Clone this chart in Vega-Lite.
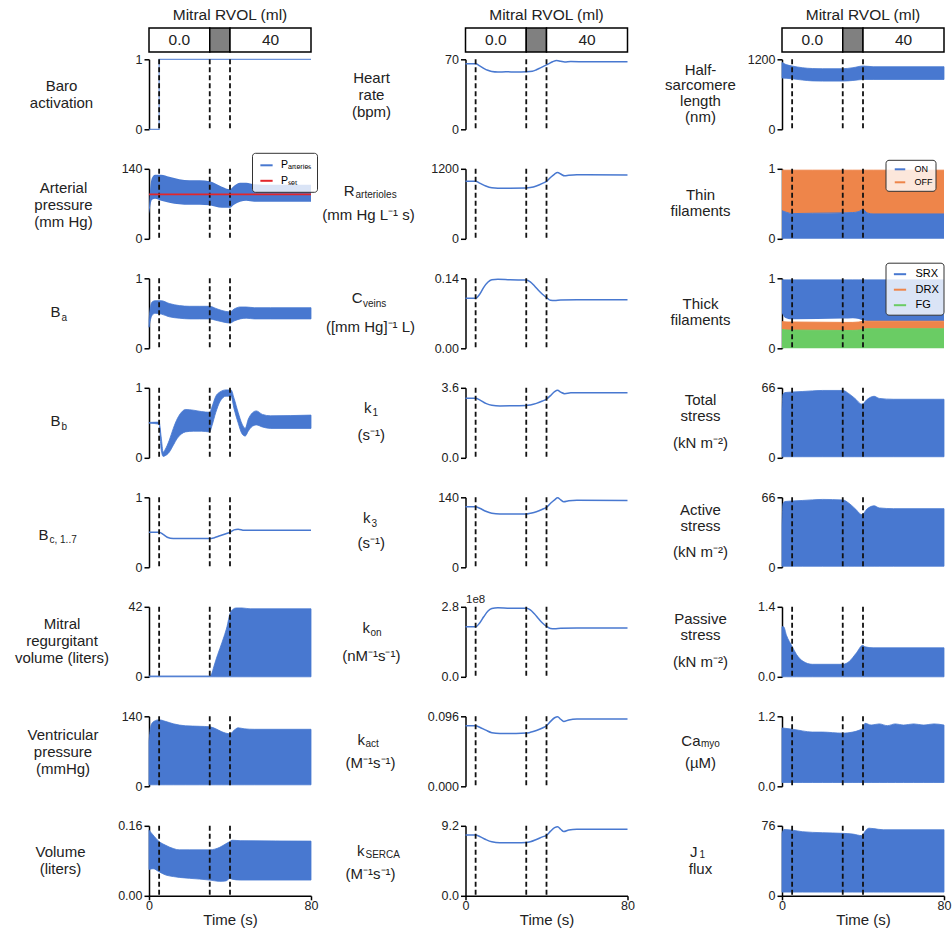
{
  "$schema": "https://vega.github.io/schema/vega-lite/v6.json",
  "padding": {"top": 7, "left": 14, "right": 5, "bottom": 5},
  "background": "white",
  "config": {
    "font": "Liberation Sans",
    "view": {"stroke": null},
    "axis": {"domainColor": "#000", "domainWidth": 1.5, "tickColor": "#000", "tickWidth": 1.5, "tickSize": 5, "labelFontSize": 12.5, "labelColor": "#222", "labelPadding": 2, "labelFlush": false, "labelOverlap": false, "titleFontSize": 15, "titleFontWeight": "normal", "titleColor": "#222", "titleLineHeight": 17, "grid": false},
    "title": {"fontSize": 15.5, "fontWeight": "normal", "color": "#222"}
  },
  "datasets": {
    "events": [{"t": 5}, {"t": 30}, {"t": 40}],
    "regimes": [
      {"regime": "before", "start": 0, "end": 30, "rvol": "0.0"},
      {"regime": "transition", "start": 30, "end": 40, "rvol": ""},
      {"regime": "after", "start": 40, "end": 80, "rvol": "40"}
    ],
    "baro": [{"t": 0, "v": 0}, {"t": 5, "v": 1}, {"t": 80, "v": 1}],
    "arterial": [
      {"series": "Pₐᵣₜₑᵣᵢₑₛ", "t": 0, "lo": 50, "hi": 62},
      {"series": "Pₐᵣₜₑᵣᵢₑₛ", "t": 0.5, "lo": 62, "hi": 95},
      {"series": "Pₐᵣₜₑᵣᵢₑₛ", "t": 1.5, "lo": 78, "hi": 122},
      {"series": "Pₐᵣₜₑᵣᵢₑₛ", "t": 3, "lo": 80, "hi": 128},
      {"series": "Pₐᵣₜₑᵣᵢₑₛ", "t": 6, "lo": 76, "hi": 128},
      {"series": "Pₐᵣₜₑᵣᵢₑₛ", "t": 10, "lo": 72, "hi": 124},
      {"series": "Pₐᵣₜₑᵣᵢₑₛ", "t": 15, "lo": 69, "hi": 119},
      {"series": "Pₐᵣₜₑᵣᵢₑₛ", "t": 20, "lo": 68, "hi": 117},
      {"series": "Pₐᵣₜₑᵣᵢₑₛ", "t": 25, "lo": 68, "hi": 117},
      {"series": "Pₐᵣₜₑᵣᵢₑₛ", "t": 30, "lo": 67, "hi": 115},
      {"series": "Pₐᵣₜₑᵣᵢₑₛ", "t": 33, "lo": 64, "hi": 110},
      {"series": "Pₐᵣₜₑᵣᵢₑₛ", "t": 36, "lo": 62, "hi": 104},
      {"series": "Pₐᵣₜₑᵣᵢₑₛ", "t": 40, "lo": 62, "hi": 99},
      {"series": "Pₐᵣₜₑᵣᵢₑₛ", "t": 42, "lo": 68, "hi": 106},
      {"series": "Pₐᵣₜₑᵣᵢₑₛ", "t": 45, "lo": 74, "hi": 112},
      {"series": "Pₐᵣₜₑᵣᵢₑₛ", "t": 48, "lo": 76, "hi": 112},
      {"series": "Pₐᵣₜₑᵣᵢₑₛ", "t": 52, "lo": 74, "hi": 109},
      {"series": "Pₐᵣₜₑᵣᵢₑₛ", "t": 60, "lo": 74, "hi": 108},
      {"series": "Pₐᵣₜₑᵣᵢₑₛ", "t": 80, "lo": 74, "hi": 108}
    ],
    "pset": [{"series": "Pₛₑₜ", "t": 0, "v": 89}, {"series": "Pₛₑₜ", "t": 80, "v": 89}],
    "ba": [
      {"t": 0, "lo": 0.30, "hi": 0.40}, {"t": 0.5, "lo": 0.38, "hi": 0.55}, {"t": 1.5, "lo": 0.47, "hi": 0.66},
      {"t": 3, "lo": 0.50, "hi": 0.68}, {"t": 6, "lo": 0.49, "hi": 0.68}, {"t": 10, "lo": 0.45, "hi": 0.64},
      {"t": 15, "lo": 0.43, "hi": 0.61}, {"t": 20, "lo": 0.42, "hi": 0.60}, {"t": 25, "lo": 0.42, "hi": 0.60},
      {"t": 30, "lo": 0.42, "hi": 0.60}, {"t": 33, "lo": 0.40, "hi": 0.57}, {"t": 36, "lo": 0.38, "hi": 0.54},
      {"t": 40, "lo": 0.36, "hi": 0.52}, {"t": 42, "lo": 0.39, "hi": 0.56}, {"t": 45, "lo": 0.42, "hi": 0.59},
      {"t": 48, "lo": 0.43, "hi": 0.59}, {"t": 52, "lo": 0.42, "hi": 0.58}, {"t": 60, "lo": 0.42, "hi": 0.58},
      {"t": 80, "lo": 0.42, "hi": 0.58}
    ],
    "bb": [
      {"t": 0, "lo": 0.495, "hi": 0.505}, {"t": 5, "lo": 0.48, "hi": 0.51}, {"t": 6, "lo": 0.12, "hi": 0.30},
      {"t": 7, "lo": 0.02, "hi": 0.08}, {"t": 8, "lo": 0.03, "hi": 0.12}, {"t": 10, "lo": 0.08, "hi": 0.25},
      {"t": 12, "lo": 0.18, "hi": 0.42}, {"t": 14, "lo": 0.28, "hi": 0.56}, {"t": 16, "lo": 0.34, "hi": 0.65},
      {"t": 18, "lo": 0.37, "hi": 0.69}, {"t": 22, "lo": 0.38, "hi": 0.68}, {"t": 26, "lo": 0.38, "hi": 0.66},
      {"t": 30, "lo": 0.37, "hi": 0.65}, {"t": 31, "lo": 0.45, "hi": 0.72}, {"t": 33, "lo": 0.65, "hi": 0.88},
      {"t": 35, "lo": 0.80, "hi": 0.94}, {"t": 38, "lo": 0.88, "hi": 0.97}, {"t": 40.5, "lo": 0.88, "hi": 0.97},
      {"t": 42, "lo": 0.70, "hi": 0.85}, {"t": 44, "lo": 0.50, "hi": 0.65}, {"t": 46, "lo": 0.34, "hi": 0.48},
      {"t": 47.5, "lo": 0.31, "hi": 0.42}, {"t": 49, "lo": 0.38, "hi": 0.55}, {"t": 51, "lo": 0.45, "hi": 0.64},
      {"t": 53, "lo": 0.47, "hi": 0.67}, {"t": 56, "lo": 0.44, "hi": 0.62}, {"t": 60, "lo": 0.42, "hi": 0.60},
      {"t": 80, "lo": 0.42, "hi": 0.61}
    ],
    "bc": [
      {"t": 0, "v": 0.5}, {"t": 5, "v": 0.5}, {"t": 7, "v": 0.47}, {"t": 9, "v": 0.43}, {"t": 12, "v": 0.41},
      {"t": 20, "v": 0.41}, {"t": 30, "v": 0.41}, {"t": 32, "v": 0.42}, {"t": 35, "v": 0.45}, {"t": 38, "v": 0.48},
      {"t": 40, "v": 0.5}, {"t": 42, "v": 0.535}, {"t": 44, "v": 0.545}, {"t": 47, "v": 0.53}, {"t": 52, "v": 0.53},
      {"t": 80, "v": 0.53}
    ],
    "mrv": [
      {"t": 0, "lo": 0, "hi": 0.5}, {"t": 30, "lo": 0, "hi": 0.5}, {"t": 31, "lo": 0, "hi": 2}, {"t": 32, "lo": 0, "hi": 6},
      {"t": 33, "lo": 0, "hi": 10}, {"t": 35, "lo": 0, "hi": 17}, {"t": 37, "lo": 0, "hi": 24}, {"t": 38.5, "lo": 0, "hi": 30},
      {"t": 40, "lo": 0, "hi": 38}, {"t": 41.5, "lo": 0, "hi": 40.5}, {"t": 43, "lo": 0, "hi": 41.3}, {"t": 46, "lo": 0, "hi": 41.3},
      {"t": 50, "lo": 0, "hi": 40.8}, {"t": 80, "lo": 0, "hi": 40.8}
    ],
    "vp": [
      {"t": 0, "lo": 3, "hi": 90}, {"t": 1, "lo": 3, "hi": 122}, {"t": 2.5, "lo": 3, "hi": 130}, {"t": 5, "lo": 3, "hi": 133},
      {"t": 8, "lo": 3, "hi": 130}, {"t": 12, "lo": 3, "hi": 125}, {"t": 18, "lo": 3, "hi": 121}, {"t": 25, "lo": 3, "hi": 120},
      {"t": 30, "lo": 3, "hi": 119}, {"t": 33, "lo": 3, "hi": 115}, {"t": 36, "lo": 3, "hi": 109}, {"t": 40, "lo": 3, "hi": 105},
      {"t": 42, "lo": 3, "hi": 112}, {"t": 44, "lo": 3, "hi": 117}, {"t": 47, "lo": 3, "hi": 115}, {"t": 52, "lo": 3, "hi": 114},
      {"t": 80, "lo": 3, "hi": 114}
    ],
    "vol": [
      {"t": 0, "lo": 0.060, "hi": 0.150}, {"t": 2, "lo": 0.062, "hi": 0.139}, {"t": 5, "lo": 0.055, "hi": 0.124},
      {"t": 8, "lo": 0.048, "hi": 0.116}, {"t": 12, "lo": 0.044, "hi": 0.108}, {"t": 15, "lo": 0.042, "hi": 0.105},
      {"t": 20, "lo": 0.040, "hi": 0.105}, {"t": 30, "lo": 0.036, "hi": 0.105}, {"t": 35, "lo": 0.033, "hi": 0.111},
      {"t": 38, "lo": 0.034, "hi": 0.119}, {"t": 40, "lo": 0.040, "hi": 0.124}, {"t": 41, "lo": 0.038, "hi": 0.127},
      {"t": 45, "lo": 0.036, "hi": 0.126}, {"t": 80, "lo": 0.036, "hi": 0.125}
    ],
    "hr": [
      {"t": 0, "v": 65.5}, {"t": 5, "v": 65.5}, {"t": 7, "v": 63.5}, {"t": 9, "v": 61}, {"t": 11, "v": 59}, {"t": 13, "v": 57.8},
      {"t": 16, "v": 57.3}, {"t": 20, "v": 57.5}, {"t": 25, "v": 57.3}, {"t": 30, "v": 57.5}, {"t": 33, "v": 58}, {"t": 35, "v": 59.5},
      {"t": 37, "v": 61.5}, {"t": 39, "v": 63.5}, {"t": 41, "v": 65.5}, {"t": 43, "v": 67.5}, {"t": 45, "v": 68.8}, {"t": 47, "v": 68},
      {"t": 49, "v": 67.3}, {"t": 52, "v": 67.7}, {"t": 60, "v": 67.6}, {"t": 80, "v": 67.6}
    ],
    "rart": [
      {"t": 0, "v": 985}, {"t": 5, "v": 985}, {"t": 7, "v": 955}, {"t": 10, "v": 905}, {"t": 13, "v": 875}, {"t": 16, "v": 868},
      {"t": 22, "v": 868}, {"t": 30, "v": 870}, {"t": 32, "v": 878}, {"t": 35, "v": 905}, {"t": 38, "v": 950}, {"t": 40, "v": 985},
      {"t": 42, "v": 1050}, {"t": 44, "v": 1110}, {"t": 45.5, "v": 1135}, {"t": 47, "v": 1110}, {"t": 49, "v": 1080}, {"t": 51, "v": 1090},
      {"t": 55, "v": 1100}, {"t": 60, "v": 1098}, {"t": 80, "v": 1095}
    ],
    "cv": [
      {"t": 0, "v": 0.1}, {"t": 5, "v": 0.1}, {"t": 7, "v": 0.108}, {"t": 9, "v": 0.122}, {"t": 11, "v": 0.132}, {"t": 13, "v": 0.137},
      {"t": 16, "v": 0.138}, {"t": 22, "v": 0.137}, {"t": 30, "v": 0.1365}, {"t": 32, "v": 0.133}, {"t": 34, "v": 0.125}, {"t": 36, "v": 0.116},
      {"t": 38, "v": 0.108}, {"t": 40, "v": 0.1015}, {"t": 42, "v": 0.096}, {"t": 44, "v": 0.0955}, {"t": 47, "v": 0.0965}, {"t": 55, "v": 0.097},
      {"t": 80, "v": 0.097}
    ],
    "k1": [
      {"t": 0, "v": 3.06}, {"t": 5, "v": 3.06}, {"t": 7, "v": 2.98}, {"t": 10, "v": 2.8}, {"t": 13, "v": 2.7}, {"t": 17, "v": 2.67},
      {"t": 25, "v": 2.68}, {"t": 30, "v": 2.69}, {"t": 32, "v": 2.72}, {"t": 35, "v": 2.8}, {"t": 38, "v": 2.92}, {"t": 40, "v": 3.02},
      {"t": 42, "v": 3.2}, {"t": 44, "v": 3.4}, {"t": 45.5, "v": 3.47}, {"t": 47, "v": 3.38}, {"t": 49, "v": 3.3}, {"t": 52, "v": 3.34},
      {"t": 60, "v": 3.34}, {"t": 80, "v": 3.34}
    ],
    "k3": [
      {"t": 0, "v": 121}, {"t": 5, "v": 121}, {"t": 7, "v": 118}, {"t": 10, "v": 112}, {"t": 13, "v": 108}, {"t": 17, "v": 106.5},
      {"t": 25, "v": 106.5}, {"t": 30, "v": 106.5}, {"t": 32, "v": 108}, {"t": 35, "v": 111}, {"t": 38, "v": 116}, {"t": 40, "v": 120},
      {"t": 42, "v": 128}, {"t": 44, "v": 135}, {"t": 45.5, "v": 139}, {"t": 47, "v": 135}, {"t": 48.5, "v": 131}, {"t": 51, "v": 133},
      {"t": 55, "v": 134}, {"t": 80, "v": 133.5}
    ],
    "kon": [
      {"t": 0, "v": 2.0e8}, {"t": 5, "v": 2.0e8}, {"t": 7, "v": 2.15e8}, {"t": 9, "v": 2.4e8}, {"t": 11, "v": 2.62e8}, {"t": 13, "v": 2.73e8},
      {"t": 16, "v": 2.76e8}, {"t": 22, "v": 2.74e8}, {"t": 30, "v": 2.74e8}, {"t": 32, "v": 2.68e8}, {"t": 34, "v": 2.52e8}, {"t": 36, "v": 2.33e8},
      {"t": 38, "v": 2.15e8}, {"t": 40, "v": 2.02e8}, {"t": 42, "v": 1.93e8}, {"t": 44, "v": 1.92e8}, {"t": 47, "v": 1.94e8}, {"t": 55, "v": 1.95e8},
      {"t": 80, "v": 1.95e8}
    ],
    "kact": [
      {"t": 0, "v": 0.083}, {"t": 5, "v": 0.083}, {"t": 7, "v": 0.081}, {"t": 10, "v": 0.077}, {"t": 13, "v": 0.0735}, {"t": 17, "v": 0.0725},
      {"t": 25, "v": 0.0725}, {"t": 30, "v": 0.073}, {"t": 32, "v": 0.074}, {"t": 35, "v": 0.0765}, {"t": 38, "v": 0.08}, {"t": 40, "v": 0.083},
      {"t": 42, "v": 0.089}, {"t": 44, "v": 0.094}, {"t": 45.5, "v": 0.0955}, {"t": 47, "v": 0.092}, {"t": 48.5, "v": 0.089}, {"t": 51, "v": 0.091},
      {"t": 55, "v": 0.0922}, {"t": 80, "v": 0.0922}
    ],
    "kserca": [
      {"t": 0, "v": 7.98}, {"t": 5, "v": 7.98}, {"t": 7, "v": 7.8}, {"t": 10, "v": 7.4}, {"t": 13, "v": 7.1}, {"t": 17, "v": 6.97},
      {"t": 25, "v": 6.97}, {"t": 30, "v": 7.0}, {"t": 32, "v": 7.1}, {"t": 35, "v": 7.4}, {"t": 38, "v": 7.75}, {"t": 40, "v": 7.95},
      {"t": 42, "v": 8.5}, {"t": 44, "v": 8.95}, {"t": 45.5, "v": 9.08}, {"t": 47, "v": 8.75}, {"t": 48.5, "v": 8.45}, {"t": 51, "v": 8.65},
      {"t": 55, "v": 8.75}, {"t": 80, "v": 8.75}
    ],
    "hsl": [
      {"t": 0, "lo": 880, "hi": 1145}, {"t": 2, "lo": 875, "hi": 1110}, {"t": 5, "lo": 866, "hi": 1085}, {"t": 10, "lo": 845, "hi": 1056},
      {"t": 15, "lo": 830, "hi": 1042}, {"t": 20, "lo": 826, "hi": 1039}, {"t": 30, "lo": 826, "hi": 1039}, {"t": 35, "lo": 837, "hi": 1056},
      {"t": 40, "lo": 854, "hi": 1085}, {"t": 45, "lo": 854, "hi": 1073}, {"t": 80, "lo": 854, "hi": 1073}
    ],
    "thin": [
      {"state": "ON", "t": 0, "lo": 0, "hi": 0.40}, {"state": "ON", "t": 2, "lo": 0, "hi": 0.38}, {"state": "ON", "t": 5, "lo": 0, "hi": 0.36},
      {"state": "ON", "t": 15, "lo": 0, "hi": 0.365}, {"state": "ON", "t": 30, "lo": 0, "hi": 0.37}, {"state": "ON", "t": 35, "lo": 0, "hi": 0.375},
      {"state": "ON", "t": 38, "lo": 0, "hi": 0.39}, {"state": "ON", "t": 40, "lo": 0, "hi": 0.42}, {"state": "ON", "t": 42, "lo": 0, "hi": 0.37},
      {"state": "ON", "t": 45, "lo": 0, "hi": 0.355}, {"state": "ON", "t": 80, "lo": 0, "hi": 0.355},
      {"state": "OFF", "t": 0, "lo": 0.40, "hi": 0.98}, {"state": "OFF", "t": 2, "lo": 0.38, "hi": 0.98}, {"state": "OFF", "t": 5, "lo": 0.36, "hi": 0.98},
      {"state": "OFF", "t": 15, "lo": 0.365, "hi": 0.98}, {"state": "OFF", "t": 30, "lo": 0.37, "hi": 0.98}, {"state": "OFF", "t": 35, "lo": 0.375, "hi": 0.98},
      {"state": "OFF", "t": 38, "lo": 0.39, "hi": 0.98}, {"state": "OFF", "t": 40, "lo": 0.42, "hi": 0.98}, {"state": "OFF", "t": 42, "lo": 0.37, "hi": 0.98},
      {"state": "OFF", "t": 45, "lo": 0.355, "hi": 0.98}, {"state": "OFF", "t": 80, "lo": 0.355, "hi": 0.98}
    ],
    "thick": [
      {"state": "FG", "t": 0, "lo": 0, "hi": 0.27}, {"state": "FG", "t": 1, "lo": 0, "hi": 0.265}, {"state": "FG", "t": 3, "lo": 0, "hi": 0.26},
      {"state": "FG", "t": 5, "lo": 0, "hi": 0.26}, {"state": "FG", "t": 30, "lo": 0, "hi": 0.255}, {"state": "FG", "t": 35, "lo": 0, "hi": 0.255},
      {"state": "FG", "t": 38, "lo": 0, "hi": 0.26}, {"state": "FG", "t": 40, "lo": 0, "hi": 0.27}, {"state": "FG", "t": 42, "lo": 0, "hi": 0.28},
      {"state": "FG", "t": 80, "lo": 0, "hi": 0.28},
      {"state": "DRX", "t": 0, "lo": 0.27, "hi": 0.38}, {"state": "DRX", "t": 1, "lo": 0.265, "hi": 0.378}, {"state": "DRX", "t": 3, "lo": 0.26, "hi": 0.375},
      {"state": "DRX", "t": 5, "lo": 0.26, "hi": 0.375}, {"state": "DRX", "t": 30, "lo": 0.255, "hi": 0.37}, {"state": "DRX", "t": 35, "lo": 0.255, "hi": 0.37},
      {"state": "DRX", "t": 38, "lo": 0.26, "hi": 0.375}, {"state": "DRX", "t": 40, "lo": 0.27, "hi": 0.385}, {"state": "DRX", "t": 42, "lo": 0.28, "hi": 0.387},
      {"state": "DRX", "t": 80, "lo": 0.28, "hi": 0.387},
      {"state": "SRX", "t": 0, "lo": 0.50, "hi": 0.977}, {"state": "SRX", "t": 1, "lo": 0.45, "hi": 0.977}, {"state": "SRX", "t": 3, "lo": 0.42, "hi": 0.977},
      {"state": "SRX", "t": 5, "lo": 0.415, "hi": 0.977}, {"state": "SRX", "t": 30, "lo": 0.425, "hi": 0.977}, {"state": "SRX", "t": 35, "lo": 0.43, "hi": 0.977},
      {"state": "SRX", "t": 38, "lo": 0.42, "hi": 0.977}, {"state": "SRX", "t": 40, "lo": 0.40, "hi": 0.977}, {"state": "SRX", "t": 42, "lo": 0.39, "hi": 0.977},
      {"state": "SRX", "t": 80, "lo": 0.39, "hi": 0.977}
    ],
    "total": [
      {"t": 0, "lo": 1, "hi": 44}, {"t": 0.5, "lo": 1, "hi": 60}, {"t": 1.5, "lo": 1, "hi": 61.5}, {"t": 5, "lo": 1, "hi": 62},
      {"t": 10, "lo": 1, "hi": 62.5}, {"t": 20, "lo": 1, "hi": 63.5}, {"t": 30, "lo": 1, "hi": 63.5}, {"t": 33, "lo": 1, "hi": 60.5},
      {"t": 36, "lo": 1, "hi": 56}, {"t": 39.5, "lo": 1, "hi": 50.5}, {"t": 42, "lo": 1, "hi": 55}, {"t": 45.5, "lo": 1, "hi": 58},
      {"t": 48, "lo": 1, "hi": 56}, {"t": 55, "lo": 1, "hi": 55.2}, {"t": 80, "lo": 1, "hi": 55.2}
    ],
    "active": [
      {"t": 0, "lo": 1, "hi": 40}, {"t": 0.5, "lo": 1, "hi": 60}, {"t": 1.5, "lo": 1, "hi": 62}, {"t": 5, "lo": 1, "hi": 62.5},
      {"t": 10, "lo": 1, "hi": 63}, {"t": 20, "lo": 1, "hi": 64}, {"t": 30, "lo": 1, "hi": 63.5}, {"t": 33, "lo": 1, "hi": 60.5},
      {"t": 36, "lo": 1, "hi": 55.5}, {"t": 39.5, "lo": 1, "hi": 49.7}, {"t": 42, "lo": 1, "hi": 55}, {"t": 45.5, "lo": 1, "hi": 58},
      {"t": 48, "lo": 1, "hi": 56}, {"t": 55, "lo": 1, "hi": 55.3}, {"t": 80, "lo": 1, "hi": 55.3}
    ],
    "passive": [
      {"t": 0, "lo": 0, "hi": 1.0}, {"t": 0.8, "lo": 0, "hi": 1.0}, {"t": 2.2, "lo": 0, "hi": 0.83}, {"t": 5.1, "lo": 0, "hi": 0.6},
      {"t": 7.1, "lo": 0, "hi": 0.45}, {"t": 10.4, "lo": 0, "hi": 0.31}, {"t": 15, "lo": 0, "hi": 0.25}, {"t": 30, "lo": 0, "hi": 0.25},
      {"t": 33.3, "lo": 0, "hi": 0.31}, {"t": 36.6, "lo": 0, "hi": 0.47}, {"t": 39.9, "lo": 0, "hi": 0.63}, {"t": 41, "lo": 0, "hi": 0.6},
      {"t": 45, "lo": 0, "hi": 0.58}, {"t": 80, "lo": 0, "hi": 0.58}
    ],
    "camyo": [
      {"t": 0, "lo": 0.065, "hi": 1.0}, {"t": 5, "lo": 0.065, "hi": 0.98}, {"t": 10, "lo": 0.065, "hi": 0.95}, {"t": 15, "lo": 0.065, "hi": 0.93},
      {"t": 20, "lo": 0.065, "hi": 0.93}, {"t": 25, "lo": 0.065, "hi": 0.92}, {"t": 30, "lo": 0.065, "hi": 0.91}, {"t": 35, "lo": 0.065, "hi": 0.93},
      {"t": 38, "lo": 0.065, "hi": 0.96}, {"t": 40, "lo": 0.065, "hi": 1.0}, {"t": 41, "lo": 0.065, "hi": 1.08}, {"t": 44, "lo": 0.065, "hi": 1.05},
      {"t": 48, "lo": 0.065, "hi": 1.07}, {"t": 52, "lo": 0.065, "hi": 1.04}, {"t": 56, "lo": 0.065, "hi": 1.07}, {"t": 60, "lo": 0.065, "hi": 1.05},
      {"t": 65, "lo": 0.065, "hi": 1.07}, {"t": 70, "lo": 0.065, "hi": 1.05}, {"t": 75, "lo": 0.065, "hi": 1.07}, {"t": 80, "lo": 0.065, "hi": 1.05}
    ],
    "j1": [
      {"t": 0, "lo": 4, "hi": 68}, {"t": 1, "lo": 4, "hi": 72}, {"t": 5, "lo": 4, "hi": 71.3}, {"t": 10, "lo": 4, "hi": 69.6},
      {"t": 20, "lo": 4, "hi": 68.5}, {"t": 30, "lo": 4, "hi": 67.8}, {"t": 35, "lo": 4, "hi": 67}, {"t": 39.5, "lo": 4, "hi": 65.3},
      {"t": 41, "lo": 4, "hi": 70}, {"t": 43, "lo": 4, "hi": 73.4}, {"t": 45, "lo": 4, "hi": 73}, {"t": 50, "lo": 4, "hi": 71.7},
      {"t": 80, "lo": 4, "hi": 71.7}
    ]
  },
  "hconcat": [
    {
      "vconcat": [
        {
          "width": 162, "height": 24,
          "title": {"text": "Mitral RVOL (ml)", "fontSize": 15.5, "offset": 4},
          "data": {"name": "regimes"},
          "layer": [
            {"mark": {"type": "rect", "stroke": "#000", "strokeWidth": 1.5},
             "encoding": {"x": {"field": "start", "type": "quantitative", "scale": {"domain": [0, 80], "nice": false}, "axis": null}, "x2": {"field": "end"},
               "color": {"field": "regime", "type": "nominal", "scale": {"domain": ["before", "transition", "after"], "range": ["#ffffff", "#808080", "#ffffff"]}, "legend": null}}},
            {"transform": [{"filter": "datum.rvol !== ''"}, {"calculate": "(datum.start + datum.end) / 2", "as": "mid"}],
             "mark": {"type": "text", "fontSize": 15.5, "color": "#222"},
             "encoding": {"x": {"field": "mid", "type": "quantitative", "axis": null}, "text": {"field": "rvol"}}}
          ]
        },
        {
          "vconcat": [
            {"width": 162, "height": 70, "resolve": {"axis": {"x": "independent"}}, "layer": [
              {"data": {"name": "baro"}, "mark": {"type": "line", "interpolate": "step-after", "color": "#4878d0", "strokeWidth": 1.2, "opacity": 0.8},
               "encoding": {"x": {"field": "t", "type": "quantitative", "scale": {"domain": [0, 80], "nice": false}, "axis": null},
                 "y": {"field": "v", "type": "quantitative", "scale": {"domain": [0, 1], "nice": false}, "axis": {"values": [0, 1], "format": "d", "title": ["Baro", "activation"], "titleAngle": 0, "titleAlign": "center", "titleBaseline": "middle", "titleX": -88, "titleY": 26.2}}}},
              {"data": {"name": "events"}, "mark": {"type": "rule", "color": "#111", "strokeWidth": 1.8, "strokeDash": [5, 3]},
               "encoding": {"x": {"field": "t", "type": "quantitative", "scale": {"domain": [0, 80], "nice": false}, "axis": null}}}
            ]},
            {"width": 162, "height": 70, "resolve": {"axis": {"x": "independent", "y": "independent"}}, "layer": [
              {"data": {"name": "arterial"}, "mark": {"type": "area", "interpolate": "monotone"},
               "encoding": {"x": {"field": "t", "type": "quantitative", "scale": {"domain": [0, 80], "nice": false}, "axis": null},
                 "y": {"field": "hi", "type": "quantitative", "stack": null, "scale": {"domain": [0, 140], "nice": false}, "axis": {"orient": "left", "values": [0, 140], "format": "d", "title": ["Arterial", "pressure", "(mm Hg)"], "titleAngle": 0, "titleAlign": "center", "titleBaseline": "middle", "titleX": -86, "titleY": 18.2}},
                 "y2": {"field": "lo"},
                 "color": {"field": "series", "type": "nominal", "scale": {"domain": ["Pₐᵣₜₑᵣᵢₑₛ", "Pₛₑₜ"], "range": ["#4878d0", "#e3262b"]},
                   "legend": {"title": null, "orient": "none", "legendX": 103, "legendY": -16, "labelFontSize": 10.5, "rowPadding": 2.5, "padding": 5, "symbolType": "stroke", "symbolStrokeWidth": 2, "symbolSize": 150, "strokeColor": "#333", "fillColor": "rgba(255,255,255,0.8)", "cornerRadius": 3, "labelOffset": 7, "symbolOffset": 2}}}},
              {"data": {"name": "events"}, "mark": {"type": "rule", "color": "#111", "strokeWidth": 1.8, "strokeDash": [5, 3]},
               "encoding": {"x": {"field": "t", "type": "quantitative", "scale": {"domain": [0, 80], "nice": false}, "axis": null}}},
              {"data": {"name": "pset"}, "mark": {"type": "line", "strokeWidth": 1.8},
               "encoding": {"x": {"field": "t", "type": "quantitative", "scale": {"domain": [0, 80], "nice": false}, "axis": null},
                 "y": {"field": "v", "type": "quantitative", "axis": null},
                 "color": {"field": "series", "type": "nominal", "scale": {"domain": ["Pₐᵣₜₑᵣᵢₑₛ", "Pₛₑₜ"], "range": ["#4878d0", "#e3262b"]},
                   "legend": {"title": null, "orient": "none", "legendX": 103, "legendY": -16, "labelFontSize": 10.5, "rowPadding": 2.5, "padding": 5, "symbolType": "stroke", "symbolStrokeWidth": 2, "symbolSize": 150, "strokeColor": "#333", "fillColor": "rgba(255,255,255,0.8)", "cornerRadius": 3, "labelOffset": 7, "symbolOffset": 2}}}}
            ]},
            {"width": 162, "height": 70, "resolve": {"axis": {"x": "independent"}}, "layer": [
              {"data": {"name": "ba"}, "mark": {"type": "area", "interpolate": "monotone", "color": "#4878d0", "stroke": "#4878d0", "strokeWidth": 0.8},
               "encoding": {"x": {"field": "t", "type": "quantitative", "scale": {"domain": [0, 80], "nice": false}, "axis": {"orient": "bottom", "domain": false, "ticks": false, "labels": false, "title": "a", "titleFontSize": 10, "titleAlign": "left", "titleBaseline": "middle", "titleX": -88, "titleY": -31}},
                 "y": {"field": "hi", "type": "quantitative", "scale": {"domain": [0, 1], "nice": false}, "axis": {"values": [0, 1], "format": "d", "title": "B", "titleAngle": 0, "titleAlign": "right", "titleBaseline": "middle", "titleX": -89, "titleY": 33}},
                 "y2": {"field": "lo"}}},
              {"data": {"name": "events"}, "mark": {"type": "rule", "color": "#111", "strokeWidth": 1.8, "strokeDash": [5, 3]},
               "encoding": {"x": {"field": "t", "type": "quantitative", "scale": {"domain": [0, 80], "nice": false}, "axis": null}}}
            ]},
            {"width": 162, "height": 70, "resolve": {"axis": {"x": "independent"}}, "layer": [
              {"data": {"name": "bb"}, "mark": {"type": "area", "interpolate": "monotone", "color": "#4878d0", "stroke": "#4878d0", "strokeWidth": 0.8},
               "encoding": {"x": {"field": "t", "type": "quantitative", "scale": {"domain": [0, 80], "nice": false}, "axis": {"orient": "bottom", "domain": false, "ticks": false, "labels": false, "title": "b", "titleFontSize": 10, "titleAlign": "left", "titleBaseline": "middle", "titleX": -88, "titleY": -31}},
                 "y": {"field": "hi", "type": "quantitative", "scale": {"domain": [0, 1], "nice": false}, "axis": {"values": [0, 1], "format": "d", "title": "B", "titleAngle": 0, "titleAlign": "right", "titleBaseline": "middle", "titleX": -89, "titleY": 33}},
                 "y2": {"field": "lo"}}},
              {"data": {"name": "events"}, "mark": {"type": "rule", "color": "#111", "strokeWidth": 1.8, "strokeDash": [5, 3]},
               "encoding": {"x": {"field": "t", "type": "quantitative", "scale": {"domain": [0, 80], "nice": false}, "axis": null}}}
            ]},
            {"width": 162, "height": 70, "resolve": {"axis": {"x": "independent"}}, "layer": [
              {"data": {"name": "bc"}, "mark": {"type": "line", "interpolate": "monotone", "color": "#4878d0", "strokeWidth": 1.5},
               "encoding": {"x": {"field": "t", "type": "quantitative", "scale": {"domain": [0, 80], "nice": false}, "axis": {"orient": "bottom", "domain": false, "ticks": false, "labels": false, "title": "c, 1..7", "titleFontSize": 10, "titleAlign": "left", "titleBaseline": "middle", "titleX": -100, "titleY": -28}},
                 "y": {"field": "v", "type": "quantitative", "scale": {"domain": [0, 1], "nice": false}, "axis": {"values": [0, 1], "format": "d", "title": "B", "titleAngle": 0, "titleAlign": "right", "titleBaseline": "middle", "titleX": -101, "titleY": 37}}}},
              {"data": {"name": "events"}, "mark": {"type": "rule", "color": "#111", "strokeWidth": 1.8, "strokeDash": [5, 3]},
               "encoding": {"x": {"field": "t", "type": "quantitative", "scale": {"domain": [0, 80], "nice": false}, "axis": null}}}
            ]},
            {"width": 162, "height": 70, "resolve": {"axis": {"x": "independent"}}, "layer": [
              {"data": {"name": "mrv"}, "mark": {"type": "area", "interpolate": "monotone", "color": "#4878d0", "stroke": "#4878d0", "strokeWidth": 0.8},
               "encoding": {"x": {"field": "t", "type": "quantitative", "scale": {"domain": [0, 80], "nice": false}, "axis": null},
                 "y": {"field": "hi", "type": "quantitative", "scale": {"domain": [0, 42], "nice": false}, "axis": {"values": [0, 42], "format": "d", "title": ["Mitral", "regurgitant", "volume (liters)"], "titleAngle": 0, "titleAlign": "center", "titleBaseline": "middle", "titleX": -87.5, "titleY": 17}},
                 "y2": {"field": "lo"}}},
              {"data": {"name": "events"}, "mark": {"type": "rule", "color": "#111", "strokeWidth": 1.8, "strokeDash": [5, 3]},
               "encoding": {"x": {"field": "t", "type": "quantitative", "scale": {"domain": [0, 80], "nice": false}, "axis": null}}}
            ]},
            {"width": 162, "height": 70, "resolve": {"axis": {"x": "independent"}}, "layer": [
              {"data": {"name": "vp"}, "mark": {"type": "area", "interpolate": "monotone", "color": "#4878d0", "stroke": "#4878d0", "strokeWidth": 0.8},
               "encoding": {"x": {"field": "t", "type": "quantitative", "scale": {"domain": [0, 80], "nice": false}, "axis": null},
                 "y": {"field": "hi", "type": "quantitative", "scale": {"domain": [0, 140], "nice": false}, "axis": {"values": [0, 140], "format": "d", "title": ["Ventricular", "pressure", "(mmHg)"], "titleAngle": 0, "titleAlign": "center", "titleBaseline": "middle", "titleX": -86.5, "titleY": 17.7}},
                 "y2": {"field": "lo"}}},
              {"data": {"name": "events"}, "mark": {"type": "rule", "color": "#111", "strokeWidth": 1.8, "strokeDash": [5, 3]},
               "encoding": {"x": {"field": "t", "type": "quantitative", "scale": {"domain": [0, 80], "nice": false}, "axis": null}}}
            ]},
            {"width": 162, "height": 70, "resolve": {"axis": {"x": "independent"}}, "layer": [
              {"data": {"name": "vol"}, "mark": {"type": "area", "interpolate": "monotone", "color": "#4878d0", "stroke": "#4878d0", "strokeWidth": 0.8},
               "encoding": {"x": {"field": "t", "type": "quantitative", "scale": {"domain": [0, 80], "nice": false}, "axis": {"orient": "bottom", "values": [0, 80], "format": "d", "title": "Time (s)", "tickSize": 4, "labelPadding": 0, "titlePadding": 0}},
                 "y": {"field": "hi", "type": "quantitative", "scale": {"domain": [0, 0.16], "nice": false}, "axis": {"values": [0, 0.16], "format": ".2f", "title": ["Volume", "(liters)"], "titleAngle": 0, "titleAlign": "center", "titleBaseline": "middle", "titleX": -89, "titleY": 25.2}},
                 "y2": {"field": "lo"}}},
              {"data": {"name": "events"}, "mark": {"type": "rule", "color": "#111", "strokeWidth": 1.8, "strokeDash": [5, 3]},
               "encoding": {"x": {"field": "t", "type": "quantitative", "scale": {"domain": [0, 80], "nice": false}, "axis": null}}}
            ]}
          ],
          "spacing": 39.5, "bounds": "flush",
          "resolve": {"scale": {"color": "independent"}, "legend": {"color": "independent"}}
        }
      ],
      "spacing": 7.3, "bounds": "flush",
      "resolve": {"scale": {"color": "independent"}, "legend": {"color": "independent"}}
    },
    {
      "vconcat": [
        {
          "width": 162, "height": 24,
          "title": {"text": "Mitral RVOL (ml)", "fontSize": 15.5, "offset": 4},
          "data": {"name": "regimes"},
          "layer": [
            {"mark": {"type": "rect", "stroke": "#000", "strokeWidth": 1.5},
             "encoding": {"x": {"field": "start", "type": "quantitative", "scale": {"domain": [0, 80], "nice": false}, "axis": null}, "x2": {"field": "end"},
               "color": {"field": "regime", "type": "nominal", "scale": {"domain": ["before", "transition", "after"], "range": ["#ffffff", "#808080", "#ffffff"]}, "legend": null}}},
            {"transform": [{"filter": "datum.rvol !== ''"}, {"calculate": "(datum.start + datum.end) / 2", "as": "mid"}],
             "mark": {"type": "text", "fontSize": 15.5, "color": "#222"},
             "encoding": {"x": {"field": "mid", "type": "quantitative", "axis": null}, "text": {"field": "rvol"}}}
          ]
        },
        {
          "vconcat": [
            {"width": 162, "height": 70, "resolve": {"axis": {"x": "independent"}}, "layer": [
              {"data": {"name": "hr"}, "mark": {"type": "line", "interpolate": "monotone", "color": "#4878d0", "strokeWidth": 1.5},
               "encoding": {"x": {"field": "t", "type": "quantitative", "scale": {"domain": [0, 80], "nice": false}, "axis": null},
                 "y": {"field": "v", "type": "quantitative", "scale": {"domain": [0, 70], "nice": false}, "axis": {"values": [0, 70], "format": "d", "title": ["Heart", "rate", "(bpm)"], "titleAngle": 0, "titleAlign": "center", "titleBaseline": "middle", "titleX": -94.5, "titleY": 18.4}}}},
              {"data": {"name": "events"}, "mark": {"type": "rule", "color": "#111", "strokeWidth": 1.8, "strokeDash": [5, 3]},
               "encoding": {"x": {"field": "t", "type": "quantitative", "scale": {"domain": [0, 80], "nice": false}, "axis": null}}}
            ]},
            {"width": 162, "height": 70, "resolve": {"axis": {"x": "independent"}}, "layer": [
              {"data": {"name": "rart"}, "mark": {"type": "line", "interpolate": "monotone", "color": "#4878d0", "strokeWidth": 1.5},
               "encoding": {"x": {"field": "t", "type": "quantitative", "scale": {"domain": [0, 80], "nice": false}, "axis": {"orient": "bottom", "domain": false, "ticks": false, "labels": false, "title": "R", "titleAlign": "right", "titleBaseline": "middle", "titleX": -111.5, "titleY": -48.6}},
                 "y": {"field": "v", "type": "quantitative", "scale": {"domain": [0, 1200], "nice": false}, "axis": {"values": [0, 1200], "format": "d", "title": "(mm Hg L⁻¹ s)", "titleAngle": 0, "titleAlign": "center", "titleBaseline": "middle", "titleX": -97.5, "titleY": 45.5}}}},
              {"data": {"name": "events"}, "mark": {"type": "rule", "color": "#111", "strokeWidth": 1.8, "strokeDash": [5, 3]},
               "encoding": {"x": {"field": "t", "type": "quantitative", "scale": {"domain": [0, 80], "nice": false}, "axis": {"orient": "top", "domain": false, "ticks": false, "labels": false, "title": "arterioles", "titleFontSize": 10, "titleAlign": "left", "titleBaseline": "middle", "titleX": -110.5, "titleY": 25.5}}}}
            ]},
            {"width": 162, "height": 70, "resolve": {"axis": {"x": "independent"}}, "layer": [
              {"data": {"name": "cv"}, "mark": {"type": "line", "interpolate": "monotone", "color": "#4878d0", "strokeWidth": 1.5},
               "encoding": {"x": {"field": "t", "type": "quantitative", "scale": {"domain": [0, 80], "nice": false}, "axis": {"orient": "bottom", "domain": false, "ticks": false, "labels": false, "title": "C", "titleAlign": "right", "titleBaseline": "middle", "titleX": -103.5, "titleY": -50.6}},
                 "y": {"field": "v", "type": "quantitative", "scale": {"domain": [0, 0.14], "nice": false}, "axis": {"values": [0, 0.14], "format": ".2f", "title": "([mm Hg]⁻¹ L)", "titleAngle": 0, "titleAlign": "center", "titleBaseline": "middle", "titleX": -95.5, "titleY": 47.7}}}},
              {"data": {"name": "events"}, "mark": {"type": "rule", "color": "#111", "strokeWidth": 1.8, "strokeDash": [5, 3]},
               "encoding": {"x": {"field": "t", "type": "quantitative", "scale": {"domain": [0, 80], "nice": false}, "axis": {"orient": "top", "domain": false, "ticks": false, "labels": false, "title": "veins", "titleFontSize": 10, "titleAlign": "left", "titleBaseline": "middle", "titleX": -103, "titleY": 25.4}}}}
            ]},
            {"width": 162, "height": 70, "resolve": {"axis": {"x": "independent"}}, "layer": [
              {"data": {"name": "k1"}, "mark": {"type": "line", "interpolate": "monotone", "color": "#4878d0", "strokeWidth": 1.5},
               "encoding": {"x": {"field": "t", "type": "quantitative", "scale": {"domain": [0, 80], "nice": false}, "axis": {"orient": "bottom", "domain": false, "ticks": false, "labels": false, "title": "k", "titleAlign": "right", "titleBaseline": "middle", "titleX": -94.5, "titleY": -50.1}},
                 "y": {"field": "v", "type": "quantitative", "scale": {"domain": [0, 3.6], "nice": false}, "axis": {"values": [0, 3.6], "format": ".1f", "title": "(s⁻¹)", "titleAngle": 0, "titleAlign": "center", "titleBaseline": "middle", "titleX": -94.7, "titleY": 46.5}}}},
              {"data": {"name": "events"}, "mark": {"type": "rule", "color": "#111", "strokeWidth": 1.8, "strokeDash": [5, 3]},
               "encoding": {"x": {"field": "t", "type": "quantitative", "scale": {"domain": [0, 80], "nice": false}, "axis": {"orient": "top", "domain": false, "ticks": false, "labels": false, "title": "1", "titleFontSize": 10, "titleAlign": "left", "titleBaseline": "middle", "titleX": -93.5, "titleY": 24.9}}}}
            ]},
            {"width": 162, "height": 70, "resolve": {"axis": {"x": "independent"}}, "layer": [
              {"data": {"name": "k3"}, "mark": {"type": "line", "interpolate": "monotone", "color": "#4878d0", "strokeWidth": 1.5},
               "encoding": {"x": {"field": "t", "type": "quantitative", "scale": {"domain": [0, 80], "nice": false}, "axis": {"orient": "bottom", "domain": false, "ticks": false, "labels": false, "title": "k", "titleAlign": "right", "titleBaseline": "middle", "titleX": -95.5, "titleY": -49.6}},
                 "y": {"field": "v", "type": "quantitative", "scale": {"domain": [0, 140], "nice": false}, "axis": {"values": [0, 140], "format": "d", "title": "(s⁻¹)", "titleAngle": 0, "titleAlign": "center", "titleBaseline": "middle", "titleX": -94.7, "titleY": 44.7}}}},
              {"data": {"name": "events"}, "mark": {"type": "rule", "color": "#111", "strokeWidth": 1.8, "strokeDash": [5, 3]},
               "encoding": {"x": {"field": "t", "type": "quantitative", "scale": {"domain": [0, 80], "nice": false}, "axis": {"orient": "top", "domain": false, "ticks": false, "labels": false, "title": "3", "titleFontSize": 10, "titleAlign": "left", "titleBaseline": "middle", "titleX": -94.5, "titleY": 25.7}}}}
            ]},
            {"width": 162, "height": 70, "resolve": {"axis": {"x": "independent"}},
             "title": {"text": "1e8", "anchor": "start", "frame": "group", "align": "left", "baseline": "middle", "offset": 0, "dx": 0.5, "dy": 10.3, "fontSize": 11.5},
             "layer": [
              {"data": {"name": "kon"}, "mark": {"type": "line", "interpolate": "monotone", "color": "#4878d0", "strokeWidth": 1.5},
               "encoding": {"x": {"field": "t", "type": "quantitative", "scale": {"domain": [0, 80], "nice": false}, "axis": {"orient": "bottom", "domain": false, "ticks": false, "labels": false, "title": "k", "titleAlign": "right", "titleBaseline": "middle", "titleX": -96, "titleY": -49.1}},
                 "y": {"field": "v", "type": "quantitative", "scale": {"domain": [0, 2.8e8], "nice": false}, "axis": {"values": [0, 2.8e8], "labelExpr": "format(datum.value / 1e8, '.1f')", "title": "(nM⁻¹s⁻¹)", "titleAngle": 0, "titleAlign": "center", "titleBaseline": "middle", "titleX": -94.7, "titleY": 48.2}}}},
              {"data": {"name": "events"}, "mark": {"type": "rule", "color": "#111", "strokeWidth": 1.8, "strokeDash": [5, 3]},
               "encoding": {"x": {"field": "t", "type": "quantitative", "scale": {"domain": [0, 80], "nice": false}, "axis": {"orient": "top", "domain": false, "ticks": false, "labels": false, "title": "on", "titleFontSize": 10, "titleAlign": "left", "titleBaseline": "middle", "titleX": -95.5, "titleY": 25.9}}}}
            ]},
            {"width": 162, "height": 70, "resolve": {"axis": {"x": "independent"}}, "layer": [
              {"data": {"name": "kact"}, "mark": {"type": "line", "interpolate": "monotone", "color": "#4878d0", "strokeWidth": 1.5},
               "encoding": {"x": {"field": "t", "type": "quantitative", "scale": {"domain": [0, 80], "nice": false}, "axis": {"orient": "bottom", "domain": false, "ticks": false, "labels": false, "title": "k", "titleAlign": "right", "titleBaseline": "middle", "titleX": -101, "titleY": -47.3}},
                 "y": {"field": "v", "type": "quantitative", "scale": {"domain": [0, 0.096], "nice": false}, "axis": {"values": [0, 0.096], "format": ".3f", "title": "(M⁻¹s⁻¹)", "titleAngle": 0, "titleAlign": "center", "titleBaseline": "middle", "titleX": -95.5, "titleY": 45.7}}}},
              {"data": {"name": "events"}, "mark": {"type": "rule", "color": "#111", "strokeWidth": 1.8, "strokeDash": [5, 3]},
               "encoding": {"x": {"field": "t", "type": "quantitative", "scale": {"domain": [0, 80], "nice": false}, "axis": {"orient": "top", "domain": false, "ticks": false, "labels": false, "title": "act", "titleFontSize": 10, "titleAlign": "left", "titleBaseline": "middle", "titleX": -100.5, "titleY": 26.8}}}}
            ]},
            {"width": 162, "height": 70, "resolve": {"axis": {"x": "independent"}},
             "title": {"text": "k", "anchor": "start", "frame": "group", "align": "right", "baseline": "middle", "offset": 0, "dx": -101, "dy": 45.7, "fontSize": 15},
             "layer": [
              {"data": {"name": "kserca"}, "mark": {"type": "line", "interpolate": "monotone", "color": "#4878d0", "strokeWidth": 1.5},
               "encoding": {"x": {"field": "t", "type": "quantitative", "scale": {"domain": [0, 80], "nice": false}, "axis": {"orient": "bottom", "values": [0, 80], "format": "d", "title": "Time (s)", "tickSize": 4, "labelPadding": 0, "titlePadding": 0}},
                 "y": {"field": "v", "type": "quantitative", "scale": {"domain": [0, 9.2], "nice": false}, "axis": {"values": [0, 9.2], "format": ".1f", "title": "(M⁻¹s⁻¹)", "titleAngle": 0, "titleAlign": "center", "titleBaseline": "middle", "titleX": -95.5, "titleY": 47.7}}}},
              {"data": {"name": "events"}, "mark": {"type": "rule", "color": "#111", "strokeWidth": 1.8, "strokeDash": [5, 3]},
               "encoding": {"x": {"field": "t", "type": "quantitative", "scale": {"domain": [0, 80], "nice": false}, "axis": {"orient": "top", "domain": false, "ticks": false, "labels": false, "title": "SERCA", "titleFontSize": 10, "titleAlign": "left", "titleBaseline": "middle", "titleX": -100.5, "titleY": 28.5}}}}
            ]}
          ],
          "spacing": 39.5, "bounds": "flush",
          "resolve": {"scale": {"color": "independent"}, "legend": {"color": "independent"}}
        }
      ],
      "spacing": 7.3, "bounds": "flush",
      "resolve": {"scale": {"color": "independent"}, "legend": {"color": "independent"}}
    },
    {
      "vconcat": [
        {
          "width": 162, "height": 24,
          "title": {"text": "Mitral RVOL (ml)", "fontSize": 15.5, "offset": 4},
          "data": {"name": "regimes"},
          "layer": [
            {"mark": {"type": "rect", "stroke": "#000", "strokeWidth": 1.5},
             "encoding": {"x": {"field": "start", "type": "quantitative", "scale": {"domain": [0, 80], "nice": false}, "axis": null}, "x2": {"field": "end"},
               "color": {"field": "regime", "type": "nominal", "scale": {"domain": ["before", "transition", "after"], "range": ["#ffffff", "#808080", "#ffffff"]}, "legend": null}}},
            {"transform": [{"filter": "datum.rvol !== ''"}, {"calculate": "(datum.start + datum.end) / 2", "as": "mid"}],
             "mark": {"type": "text", "fontSize": 15.5, "color": "#222"},
             "encoding": {"x": {"field": "mid", "type": "quantitative", "axis": null}, "text": {"field": "rvol"}}}
          ]
        },
        {
          "vconcat": [
            {"width": 162, "height": 70, "resolve": {"axis": {"x": "independent"}}, "layer": [
              {"data": {"name": "hsl"}, "mark": {"type": "area", "interpolate": "monotone", "color": "#4878d0", "stroke": "#4878d0", "strokeWidth": 0.8},
               "encoding": {"x": {"field": "t", "type": "quantitative", "scale": {"domain": [0, 80], "nice": false}, "axis": null},
                 "y": {"field": "hi", "type": "quantitative", "scale": {"domain": [0, 1200], "nice": false}, "axis": {"values": [0, 1200], "format": "d", "title": ["Half-", "sarcomere", "length", "(nm)"], "titleLineHeight": 15.7, "titleAngle": 0, "titleAlign": "center", "titleBaseline": "middle", "titleX": -82, "titleY": 10}},
                 "y2": {"field": "lo"}}},
              {"data": {"name": "events"}, "mark": {"type": "rule", "color": "#111", "strokeWidth": 1.8, "strokeDash": [5, 3]},
               "encoding": {"x": {"field": "t", "type": "quantitative", "scale": {"domain": [0, 80], "nice": false}, "axis": null}}}
            ]},
            {"width": 162, "height": 70, "resolve": {"axis": {"x": "independent", "y": "independent"}}, "layer": [
              {"data": {"name": "thin"}, "mark": {"type": "area", "interpolate": "monotone"},
               "encoding": {"x": {"field": "t", "type": "quantitative", "scale": {"domain": [0, 80], "nice": false}, "axis": null},
                 "y": {"field": "hi", "type": "quantitative", "stack": null, "scale": {"domain": [0, 1], "nice": false}, "axis": {"orient": "left", "values": [0, 1], "format": "d", "title": ["Thin", "filaments"], "titleLineHeight": 16, "titleAngle": 0, "titleAlign": "center", "titleBaseline": "middle", "titleX": -82, "titleY": 25.9}},
                 "y2": {"field": "lo"},
                 "color": {"field": "state", "type": "nominal", "scale": {"domain": ["ON", "OFF"], "range": ["#4878d0", "#ee854a"]},
                   "legend": {"title": null, "orient": "none", "legendX": 103.5, "legendY": -9, "labelFontSize": 9, "rowPadding": 1, "padding": 3, "symbolType": "stroke", "symbolStrokeWidth": 2, "symbolSize": 110, "strokeColor": "#333", "fillColor": "rgba(255,255,255,0.8)", "cornerRadius": 3, "labelOffset": 8, "symbolOffset": 5}}}},
              {"data": {"name": "thin"}, "mark": {"type": "line", "interpolate": "monotone", "strokeWidth": 1},
               "encoding": {"x": {"field": "t", "type": "quantitative", "scale": {"domain": [0, 80], "nice": false}, "axis": null},
                 "y": {"field": "hi", "type": "quantitative", "axis": null},
                 "color": {"field": "state", "type": "nominal", "scale": {"domain": ["ON", "OFF"], "range": ["#4878d0", "#ee854a"]},
                   "legend": {"title": null, "orient": "none", "legendX": 103.5, "legendY": -9, "labelFontSize": 9, "rowPadding": 1, "padding": 3, "symbolType": "stroke", "symbolStrokeWidth": 2, "symbolSize": 110, "strokeColor": "#333", "fillColor": "rgba(255,255,255,0.8)", "cornerRadius": 3, "labelOffset": 8, "symbolOffset": 5}}}},
              {"data": {"name": "events"}, "mark": {"type": "rule", "color": "#111", "strokeWidth": 1.8, "strokeDash": [5, 3]},
               "encoding": {"x": {"field": "t", "type": "quantitative", "scale": {"domain": [0, 80], "nice": false}, "axis": null}}}
            ]},
            {"width": 162, "height": 70, "resolve": {"axis": {"x": "independent", "y": "independent"}}, "layer": [
              {"data": {"name": "thick"}, "mark": {"type": "area", "interpolate": "monotone"},
               "encoding": {"x": {"field": "t", "type": "quantitative", "scale": {"domain": [0, 80], "nice": false}, "axis": null},
                 "y": {"field": "hi", "type": "quantitative", "stack": null, "scale": {"domain": [0, 1], "nice": false}, "axis": {"orient": "left", "values": [0, 1], "format": "d", "title": ["Thick", "filaments"], "titleLineHeight": 16, "titleAngle": 0, "titleAlign": "center", "titleBaseline": "middle", "titleX": -82, "titleY": 25.2}},
                 "y2": {"field": "lo"},
                 "color": {"field": "state", "type": "nominal", "scale": {"domain": ["SRX", "DRX", "FG"], "range": ["#4878d0", "#ee854a", "#6acc64"]},
                   "legend": {"title": null, "orient": "none", "legendX": 103.5, "legendY": -15.6, "labelFontSize": 11, "rowPadding": 2.5, "padding": 4, "symbolType": "stroke", "symbolStrokeWidth": 2, "symbolSize": 150, "strokeColor": "#333", "fillColor": "rgba(255,255,255,0.8)", "cornerRadius": 3, "labelOffset": 8, "symbolOffset": 3}}}},
              {"data": {"name": "thick"}, "mark": {"type": "line", "interpolate": "monotone", "strokeWidth": 1},
               "encoding": {"x": {"field": "t", "type": "quantitative", "scale": {"domain": [0, 80], "nice": false}, "axis": null},
                 "y": {"field": "hi", "type": "quantitative", "axis": null},
                 "color": {"field": "state", "type": "nominal", "scale": {"domain": ["SRX", "DRX", "FG"], "range": ["#4878d0", "#ee854a", "#6acc64"]},
                   "legend": {"title": null, "orient": "none", "legendX": 103.5, "legendY": -15.6, "labelFontSize": 11, "rowPadding": 2.5, "padding": 4, "symbolType": "stroke", "symbolStrokeWidth": 2, "symbolSize": 150, "strokeColor": "#333", "fillColor": "rgba(255,255,255,0.8)", "cornerRadius": 3, "labelOffset": 8, "symbolOffset": 3}}}},
              {"data": {"name": "events"}, "mark": {"type": "rule", "color": "#111", "strokeWidth": 1.8, "strokeDash": [5, 3]},
               "encoding": {"x": {"field": "t", "type": "quantitative", "scale": {"domain": [0, 80], "nice": false}, "axis": null}}}
            ]},
            {"width": 162, "height": 70, "resolve": {"axis": {"x": "independent"}}, "layer": [
              {"data": {"name": "total"}, "mark": {"type": "area", "interpolate": "monotone", "color": "#4878d0", "stroke": "#4878d0", "strokeWidth": 0.8},
               "encoding": {"x": {"field": "t", "type": "quantitative", "scale": {"domain": [0, 80], "nice": false}, "axis": {"orient": "bottom", "domain": false, "ticks": false, "labels": false, "title": "(kN m⁻²)", "titleAlign": "center", "titleBaseline": "middle", "titleX": -82, "titleY": -15.1}},
                 "y": {"field": "hi", "type": "quantitative", "scale": {"domain": [0, 66], "nice": false}, "axis": {"values": [0, 66], "format": "d", "title": ["Total", "stress"], "titleLineHeight": 16.7, "titleAngle": 0, "titleAlign": "center", "titleBaseline": "middle", "titleX": -82, "titleY": 11.5}},
                 "y2": {"field": "lo"}}},
              {"data": {"name": "events"}, "mark": {"type": "rule", "color": "#111", "strokeWidth": 1.8, "strokeDash": [5, 3]},
               "encoding": {"x": {"field": "t", "type": "quantitative", "scale": {"domain": [0, 80], "nice": false}, "axis": null}}}
            ]},
            {"width": 162, "height": 70, "resolve": {"axis": {"x": "independent"}}, "layer": [
              {"data": {"name": "active"}, "mark": {"type": "area", "interpolate": "monotone", "color": "#4878d0", "stroke": "#4878d0", "strokeWidth": 0.8},
               "encoding": {"x": {"field": "t", "type": "quantitative", "scale": {"domain": [0, 80], "nice": false}, "axis": {"orient": "bottom", "domain": false, "ticks": false, "labels": false, "title": "(kN m⁻²)", "titleAlign": "center", "titleBaseline": "middle", "titleX": -82, "titleY": -16.3}},
                 "y": {"field": "hi", "type": "quantitative", "scale": {"domain": [0, 66], "nice": false}, "axis": {"values": [0, 66], "format": "d", "title": ["Active", "stress"], "titleLineHeight": 16, "titleAngle": 0, "titleAlign": "center", "titleBaseline": "middle", "titleX": -82, "titleY": 12}},
                 "y2": {"field": "lo"}}},
              {"data": {"name": "events"}, "mark": {"type": "rule", "color": "#111", "strokeWidth": 1.8, "strokeDash": [5, 3]},
               "encoding": {"x": {"field": "t", "type": "quantitative", "scale": {"domain": [0, 80], "nice": false}, "axis": null}}}
            ]},
            {"width": 162, "height": 70, "resolve": {"axis": {"x": "independent"}}, "layer": [
              {"data": {"name": "passive"}, "mark": {"type": "area", "interpolate": "monotone", "color": "#4878d0", "stroke": "#4878d0", "strokeWidth": 0.8},
               "encoding": {"x": {"field": "t", "type": "quantitative", "scale": {"domain": [0, 80], "nice": false}, "axis": {"orient": "bottom", "domain": false, "ticks": false, "labels": false, "title": "(kN m⁻²)", "titleAlign": "center", "titleBaseline": "middle", "titleX": -82, "titleY": -15.8}},
                 "y": {"field": "hi", "type": "quantitative", "scale": {"domain": [0, 1.4], "nice": false}, "axis": {"values": [0, 1.4], "format": ".1f", "title": ["Passive", "stress"], "titleLineHeight": 16, "titleAngle": 0, "titleAlign": "center", "titleBaseline": "middle", "titleX": -82, "titleY": 11.9}},
                 "y2": {"field": "lo"}}},
              {"data": {"name": "events"}, "mark": {"type": "rule", "color": "#111", "strokeWidth": 1.8, "strokeDash": [5, 3]},
               "encoding": {"x": {"field": "t", "type": "quantitative", "scale": {"domain": [0, 80], "nice": false}, "axis": null}}}
            ]},
            {"width": 162, "height": 70, "resolve": {"axis": {"x": "independent"}}, "layer": [
              {"data": {"name": "camyo"}, "mark": {"type": "area", "interpolate": "monotone", "color": "#4878d0", "stroke": "#4878d0", "strokeWidth": 0.8},
               "encoding": {"x": {"field": "t", "type": "quantitative", "scale": {"domain": [0, 80], "nice": false}, "axis": {"orient": "bottom", "domain": false, "ticks": false, "labels": false, "title": "Ca", "titleAlign": "right", "titleBaseline": "middle", "titleX": -82, "titleY": -46.1}},
                 "y": {"field": "hi", "type": "quantitative", "scale": {"domain": [0, 1.2], "nice": false}, "axis": {"values": [0, 1.2], "format": ".1f", "title": "(µM)", "titleAngle": 0, "titleAlign": "center", "titleBaseline": "middle", "titleX": -82, "titleY": 46.4}},
                 "y2": {"field": "lo"}}},
              {"data": {"name": "events"}, "mark": {"type": "rule", "color": "#111", "strokeWidth": 1.8, "strokeDash": [5, 3]},
               "encoding": {"x": {"field": "t", "type": "quantitative", "scale": {"domain": [0, 80], "nice": false}, "axis": {"orient": "top", "domain": false, "ticks": false, "labels": false, "title": "myo", "titleFontSize": 10, "titleAlign": "left", "titleBaseline": "middle", "titleX": -81.5, "titleY": 27.3}}}}
            ]},
            {"width": 162, "height": 70, "resolve": {"axis": {"x": "independent"}},
             "title": {"text": "J", "anchor": "start", "frame": "group", "align": "right", "baseline": "middle", "offset": 0, "dx": -84.5, "dy": 47.5, "fontSize": 15},
             "layer": [
              {"data": {"name": "j1"}, "mark": {"type": "area", "interpolate": "monotone", "color": "#4878d0", "stroke": "#4878d0", "strokeWidth": 0.8},
               "encoding": {"x": {"field": "t", "type": "quantitative", "scale": {"domain": [0, 80], "nice": false}, "axis": {"orient": "bottom", "values": [0, 80], "format": "d", "title": "Time (s)", "tickSize": 4, "labelPadding": 0, "titlePadding": 0}},
                 "y": {"field": "hi", "type": "quantitative", "scale": {"domain": [0, 76], "nice": false}, "axis": {"values": [0, 76], "format": "d", "title": "flux", "titleAngle": 0, "titleAlign": "center", "titleBaseline": "middle", "titleX": -82, "titleY": 42.5}},
                 "y2": {"field": "lo"}}},
              {"data": {"name": "events"}, "mark": {"type": "rule", "color": "#111", "strokeWidth": 1.8, "strokeDash": [5, 3]},
               "encoding": {"x": {"field": "t", "type": "quantitative", "scale": {"domain": [0, 80], "nice": false}, "axis": {"orient": "top", "domain": false, "ticks": false, "labels": false, "title": "1", "titleFontSize": 10, "titleAlign": "left", "titleBaseline": "middle", "titleX": -83, "titleY": 28.5}}}}
            ]}
          ],
          "spacing": 39.5, "bounds": "flush",
          "resolve": {"scale": {"color": "independent"}, "legend": {"color": "independent"}}
        }
      ],
      "spacing": 7.3, "bounds": "flush",
      "resolve": {"scale": {"color": "independent"}, "legend": {"color": "independent"}}
    }
  ],
  "spacing": 316.5, "bounds": "flush",
  "resolve": {"scale": {"color": "independent"}, "legend": {"color": "independent"}}
}
